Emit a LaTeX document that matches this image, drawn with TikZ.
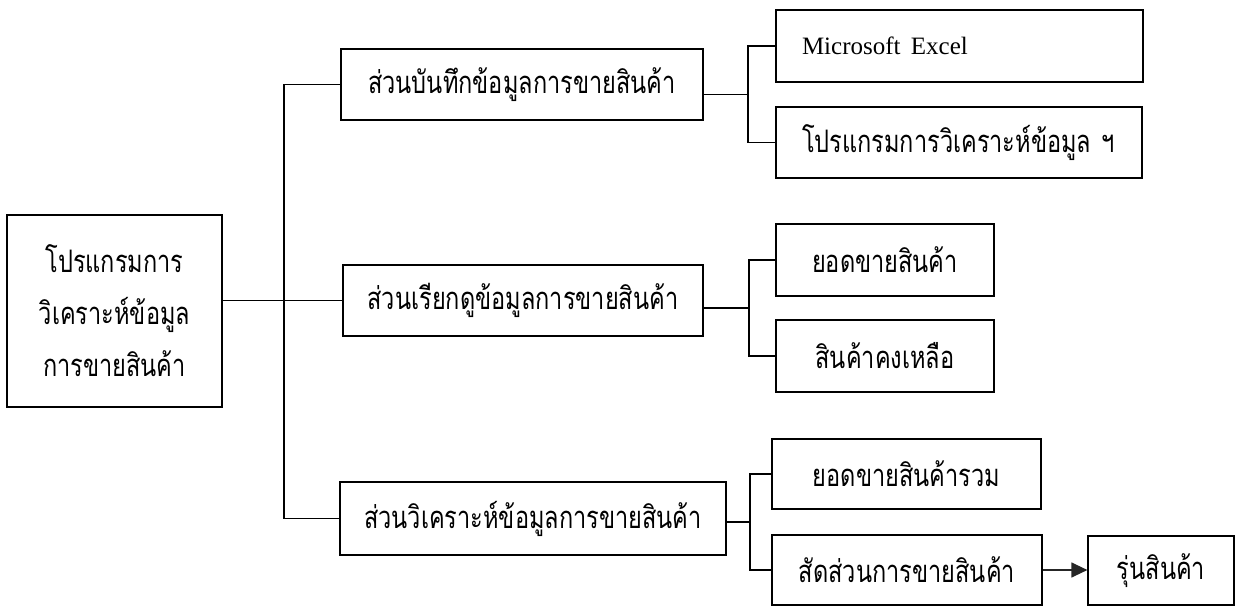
\documentclass[tikz,border=0pt]{standalone}
\usepackage{fontspec}
\setmainfont{Liberation Serif}
\newfontfamily\thai[Script=Thai,FakeStretch=0.76]{Loma}
\usetikzlibrary{arrows.meta,calc}
\tikzset{
  box/.style={draw, line width=1.2pt, inner sep=0pt, align=center, font=\thai\fontsize{31}{52}\selectfont},
  leftbox/.style={box, align=left, inner xsep=26pt},
  wire/.style={line width=1.2pt},
}
\begin{document}
\begin{tikzpicture}[x=1pt,y=-1pt]
\useasboundingbox (0,0) rectangle (1240,607);
% main
\node[box, minimum width=215pt, minimum height=192pt] (main) at (114.5,311) {โปรแกรมการ\\วิเคราะห์ข้อมูล\\การขายสินค้า};
% middle column
\node[box, minimum width=362pt, minimum height=71pt] (b1) at (522,84.5) {ส่วนบันทึกข้อมูลการขายสินค้า};
\node[box, minimum width=360pt, minimum height=71pt] (b2) at (523,300.5) {ส่วนเรียกดูข้อมูลการขายสินค้า};
\node[box, minimum width=386pt, minimum height=73pt] (b3) at (533,518.5) {ส่วนวิเคราะห์ข้อมูลการขายสินค้า};
% right column
\node[leftbox, minimum width=367pt, minimum height=72pt, text width=315pt] (r11) at (959.5,46) {\rmfamily\fontsize{25}{30}\selectfont Microsoft Excel};
\node[leftbox, minimum width=366pt, minimum height=71pt, text width=314pt] (r12) at (959,142.5) {\mbox{โปรแกรมการวิเคราะห์ข้อมูล ฯ}};
\node[box, minimum width=218pt, minimum height=72pt] (r21) at (885,260) {ยอดขายสินค้า};
\node[box, minimum width=218pt, minimum height=72pt] (r22) at (885,356) {สินค้าคงเหลือ};
\node[box, minimum width=269pt, minimum height=70pt] (r31) at (906.5,474) {ยอดขายสินค้ารวม};
\node[box, minimum width=270pt, minimum height=70pt] (r32) at (907,570) {สัดส่วนการขายสินค้า};
\node[box, minimum width=146pt, minimum height=69pt] (r4) at (1161,570.5) {รุ่นสินค้า};
% coordinates for trunks
\coordinate (t) at (284,0);
\coordinate (k1) at (748,0);
\coordinate (k2) at (749,0);
\coordinate (k3) at (750,0);
% main trunk
\draw[wire] (b1.west) -- (b1.west -| t) -- (b3.west -| t) -- (b3.west);
\draw[wire] (main.east |- b2.west) -- (b2.west);
% group 1
\coordinate (m1) at ($(r11.west)!0.5!(r12.west)$);
\draw[wire] (r11.west) -- (r11.west -| k1) -- (r12.west -| k1) -- (r12.west);
\draw[wire] (b1.east |- m1) -- (m1 -| k1);
% group 2
\coordinate (m2) at ($(r21.west)!0.5!(r22.west)$);
\draw[wire] (r21.west) -- (r21.west -| k2) -- (r22.west -| k2) -- (r22.west);
\draw[wire] (b2.east |- m2) -- (m2 -| k2);
% group 3
\coordinate (m3) at ($(r31.west)!0.5!(r32.west)$);
\draw[wire] (r31.west) -- (r31.west -| k3) -- (r32.west -| k3) -- (r32.west);
\draw[wire] (b3.east |- m3) -- (m3 -| k3);
% arrow
\draw[wire, -{Triangle[length=16pt,width=15pt]}, draw=black!85, fill=black!75] (r32.east) -- (r32.east -| r4.west);
\end{tikzpicture}
\end{document}
